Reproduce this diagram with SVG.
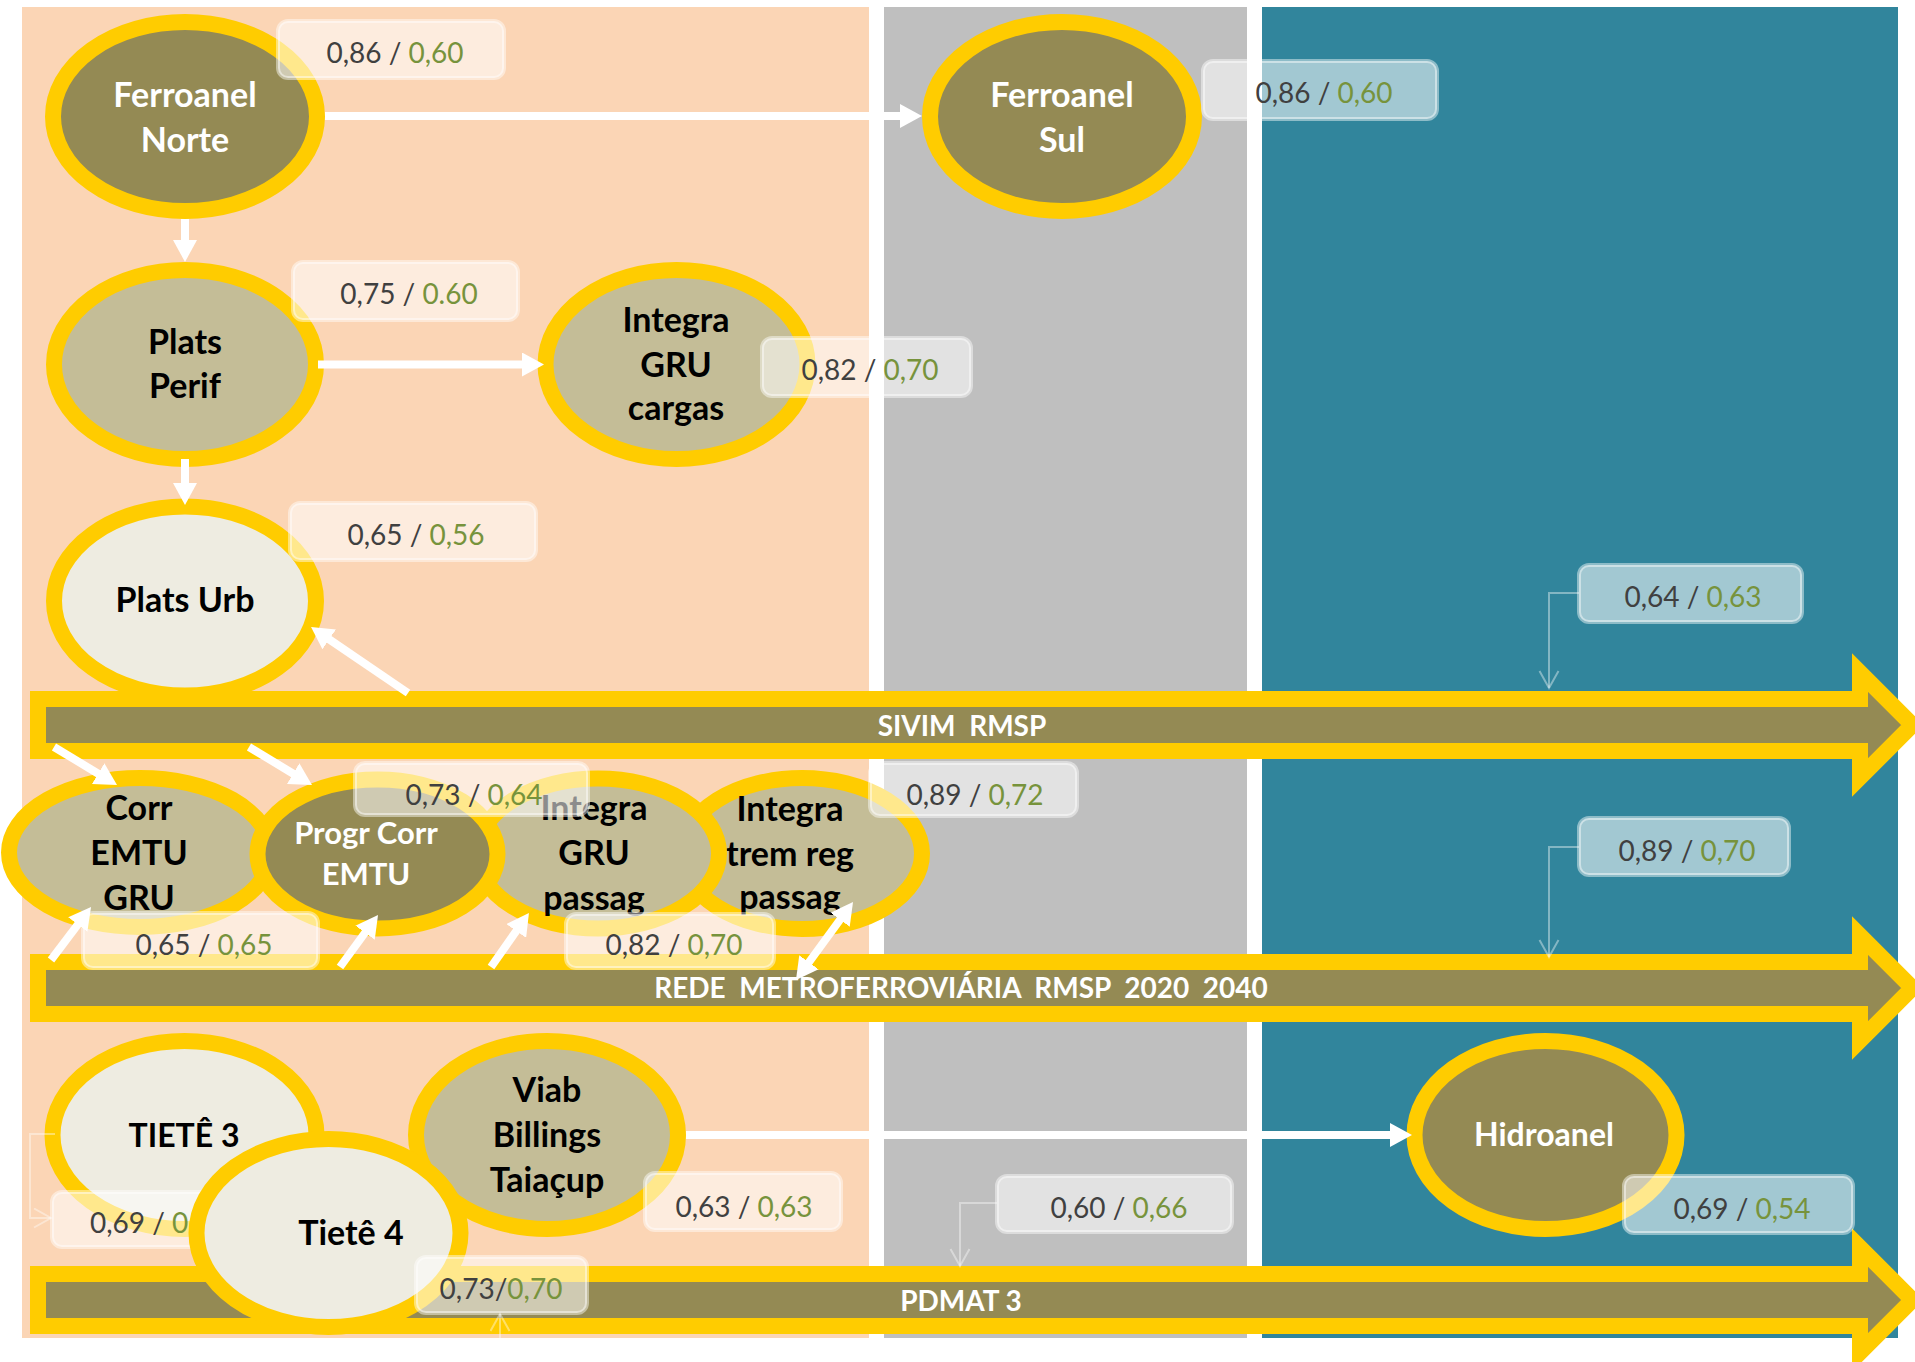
<svg xmlns="http://www.w3.org/2000/svg" width="1915" height="1362" viewBox="0 0 1915 1362">
<style>
.ring{stroke:#FFCC00;stroke-width:16}
.dark{fill:#948A54}.mid{fill:#C4BD97}.light{fill:#EEECE1}
.nt{font-family:Lato,'Liberation Sans',sans-serif;font-weight:700;font-size:34px;text-anchor:middle}
.s32{font-size:32px}.s31{font-size:31px}
.w{fill:#FFFFFF}.b{fill:#000000}
.lb{fill:#FFFFFF;fill-opacity:.55;stroke:#FFFFFF;stroke-opacity:.45;stroke-width:4}
.lt{font-family:Lato,'Liberation Sans',sans-serif;font-size:28px;fill:#404040;text-anchor:middle}
.g{fill:#77933C}
.big{stroke:#FFCC00;stroke-width:16;fill:#948A54;stroke-linejoin:miter;stroke-miterlimit:10}
.at{font-family:Lato,'Liberation Sans',sans-serif;font-weight:700;font-size:28px;fill:#FFFFFF;text-anchor:middle}
.wa{stroke:#FFFFFF;stroke-width:8;fill:none}
.cl{stroke:#FFFFFF;stroke-opacity:.4;stroke-width:2;fill:none}
</style>
<defs>
<marker id="ah" markerUnits="userSpaceOnUse" markerWidth="22" markerHeight="24" refX="4" refY="12" orient="auto-start-reverse">
<path d="M0,0 L22,12 L0,24 Z" fill="#FFFFFF"/>
</marker>
<marker id="oh" markerUnits="userSpaceOnUse" markerWidth="20" markerHeight="22" refX="18" refY="10.5" orient="auto">
<path d="M1,1 L18,10.5 L1,20" fill="none" stroke="#FFFFFF" stroke-opacity=".4" stroke-width="2"/>
</marker>
</defs>
<rect width="1915" height="1362" fill="#FFFFFF"/>
<g id="panels">
<rect x="22" y="7" width="847" height="1331" fill="#FBD5B5"/>
<rect x="884" y="7" width="363" height="1331" fill="#BFBFBF"/>
<rect x="1262" y="7" width="636" height="1331" fill="#31859C"/>
</g>
<g id="ferroanel-norte"><ellipse class="ring dark" cx="185" cy="116.5" rx="132" ry="94.5"/><text class="nt w" x="185" y="107">Ferroanel</text><text class="nt w" x="185" y="152">Norte</text></g>
<g id="ferroanel-sul"><ellipse class="ring dark" cx="1062" cy="116.5" rx="132" ry="94.5"/><text class="nt w" x="1062" y="107">Ferroanel</text><text class="nt w" x="1062" y="152">Sul</text></g>
<g id="plats-perif"><ellipse class="ring mid" cx="185" cy="364.5" rx="131" ry="94.5"/><text class="nt b" x="185" y="354">Plats</text><text class="nt b" x="185" y="398">Perif</text></g>
<g id="integra-gru-cargas"><ellipse class="ring mid" cx="676.5" cy="364.5" rx="131" ry="94.5"/><text class="nt b" x="676" y="332">Integra</text><text class="nt b" x="676" y="377">GRU</text><text class="nt b" x="676" y="420">cargas</text></g>
<g id="plats-urb"><ellipse class="ring light" cx="185" cy="601" rx="131" ry="94.5"/><text class="nt b" x="185" y="612">Plats Urb</text></g>
<g id="sivim-rmsp"><path class="big" d="M38,699 H1860 V672.5 L1912.5,725 L1860,777.5 V751 H38 Z"/><text class="at" x="962" y="736" xml:space="preserve">SIVIM  RMSP</text></g>
<g id="rede-metroferroviaria"><path class="big" d="M38,962 H1860 V935.5 L1912.5,988 L1860,1040.5 V1014 H38 Z"/><text class="at" x="961" y="998" xml:space="preserve">REDE  METROFERROVIÁRIA  RMSP  2020  2040</text></g>
<g id="pdmat-3"><path class="big" d="M38,1274 H1860 V1247.5 L1912.5,1300 L1860,1352.5 V1326 H38 Z"/><text class="at" x="961" y="1311">PDMAT 3</text></g>
<g id="integra-trem-reg-passag"><ellipse class="ring mid" cx="802" cy="853.5" rx="120" ry="75.5"/><text class="nt b" x="790" y="821">Integra</text><text class="nt b" x="790" y="866">trem reg</text><text class="nt b" x="790" y="909">passag</text></g>
<g id="integra-gru-passag"><ellipse class="ring mid" cx="598" cy="853.5" rx="121" ry="75"/><text class="nt b" x="594" y="820">Integra</text><text class="nt b" x="594" y="865">GRU</text><text class="nt b" x="594" y="910">passag</text></g>
<g id="corr-emtu-gru"><ellipse class="ring mid" cx="140" cy="852.5" rx="131" ry="74.5"/><text class="nt b" x="139" y="820">Corr</text><text class="nt b" x="139" y="865">EMTU</text><text class="nt b" x="139" y="910">GRU</text></g>
<g id="progr-corr-emtu"><ellipse class="ring dark" cx="377.5" cy="854" rx="120" ry="74.5"/><text class="nt w s31" x="366" y="844">Progr Corr</text><text class="nt w s31" x="366" y="885">EMTU</text></g>
<g id="tiete-3"><ellipse class="ring light" cx="184.5" cy="1135" rx="132" ry="94"/><text class="nt b s32" x="184" y="1147">TIETÊ 3</text></g>
<g id="label-tiete-3"><rect class="lb" x="52" y="1192" width="233" height="55" rx="10"/><text class="lt" x="90" y="1233" style="text-anchor:start">0,69 / <tspan class="g">0</tspan></text></g>
<g id="viab-billings-taiacup"><ellipse class="ring mid" cx="547" cy="1135" rx="131" ry="94"/><text class="nt b" x="547" y="1102">Viab</text><text class="nt b" x="547" y="1147">Billings</text><text class="nt b" x="547" y="1192">Taiaçup</text></g>
<g id="tiete-4"><ellipse class="ring light" cx="328.5" cy="1233" rx="132" ry="94"/><text class="nt b" x="351" y="1245">Tietê 4</text></g>
<g id="hidroanel"><ellipse class="ring dark" cx="1545.5" cy="1135" rx="131" ry="94"/><text class="nt w s32" x="1544" y="1146">Hidroanel</text></g>
<g id="connectors">
<line class="wa" x1="325" y1="116" x2="904" y2="116" marker-end="url(#ah)"/>
<line class="wa" x1="185" y1="219" x2="185" y2="244" marker-end="url(#ah)"/>
<line class="wa" x1="318" y1="364.5" x2="526" y2="364.5" marker-end="url(#ah)"/>
<line class="wa" x1="185" y1="459" x2="185" y2="487" marker-end="url(#ah)"/>
<line class="wa" x1="408" y1="693" x2="325.9" y2="637.1" marker-end="url(#ah)"/>
<line class="wa" x1="54" y1="747" x2="101.6" y2="775.7" marker-end="url(#ah)"/>
<line class="wa" x1="249" y1="747" x2="296.6" y2="775.7" marker-end="url(#ah)"/>
<line class="wa" x1="51" y1="960" x2="80.2" y2="921.4" marker-end="url(#ah)"/>
<line class="wa" x1="340" y1="967" x2="367.4" y2="929.5" marker-end="url(#ah)"/>
<line class="wa" x1="491" y1="967" x2="518.6" y2="927.7" marker-end="url(#ah)"/>
<line class="wa" x1="806.6" y1="965.5" x2="842.4" y2="916.5" marker-start="url(#ah)" marker-end="url(#ah)"/>
<line class="wa" x1="686" y1="1135" x2="1394" y2="1135" marker-end="url(#ah)"/>
<path class="cl" d="M1579,593 H1549 V688" marker-end="url(#oh)"/>
<path class="cl" d="M1579,847 H1549 V957" marker-end="url(#oh)"/>
<path class="cl" d="M997,1203 H960 V1266" marker-end="url(#oh)"/>
<path class="cl" d="M55,1134 H30 V1218 H51" marker-end="url(#oh)"/>
<path class="cl" d="M500,1338 V1314" marker-end="url(#oh)"/>
</g>
<g id="labels">
<g id="label-ferroanel-norte"><rect class="lb" x="278" y="21" width="226" height="57" rx="10"/><text class="lt" x="395" y="63">0,86 / <tspan class="g">0,60</tspan></text></g>
<g id="label-ferroanel-sul"><rect class="lb" x="1203" y="61" width="234" height="58" rx="10"/><text class="lt" x="1324" y="103">0,86 / <tspan class="g">0,60</tspan></text></g>
<g id="label-plats-perif"><rect class="lb" x="293" y="262" width="225" height="58" rx="10"/><text class="lt" x="409" y="304">0,75 / <tspan class="g">0.60</tspan></text></g>
<g id="label-integra-cargas"><rect class="lb" x="762" y="338" width="209" height="58" rx="10"/><text class="lt" x="870" y="380">0,82 / <tspan class="g">0,70</tspan></text></g>
<g id="label-plats-urb"><rect class="lb" x="290" y="503" width="246" height="57" rx="10"/><text class="lt" x="416" y="545">0,65 / <tspan class="g">0,56</tspan></text></g>
<g id="label-sivim"><rect class="lb" x="1579" y="565" width="223" height="57" rx="10"/><text class="lt" x="1693" y="607">0,64 / <tspan class="g">0,63</tspan></text></g>
<g id="label-progr-corr"><rect class="lb" x="355" y="763" width="233" height="52" rx="10"/><text class="lt" x="474" y="805">0,73 / <tspan class="g">0,64</tspan></text></g>
<g id="label-integra-trem"><rect class="lb" x="870" y="763" width="207" height="53" rx="10"/><text class="lt" x="975" y="805">0,89 / <tspan class="g">0,72</tspan></text></g>
<g id="label-rede"><rect class="lb" x="1579" y="818" width="210" height="57" rx="10"/><text class="lt" x="1687" y="861">0,89 / <tspan class="g">0,70</tspan></text></g>
<g id="label-corr-emtu"><rect class="lb" x="83" y="913" width="235" height="55" rx="10"/><text class="lt" x="204" y="955">0,65 / <tspan class="g">0,65</tspan></text></g>
<g id="label-integra-gru-passag"><rect class="lb" x="566" y="914" width="208" height="54" rx="10"/><text class="lt" x="674" y="955">0,82 / <tspan class="g">0,70</tspan></text></g>
<g id="label-viab"><rect class="lb" x="645" y="1173" width="196" height="57" rx="10"/><text class="lt" x="744" y="1217">0,63 / <tspan class="g">0,63</tspan></text></g>
<g id="label-pdmat"><rect class="lb" x="997" y="1176" width="235" height="56" rx="10"/><text class="lt" x="1119" y="1218">0,60 / <tspan class="g">0,66</tspan></text></g>
<g id="label-hidroanel"><rect class="lb" x="1624" y="1176" width="229" height="57" rx="10"/><text class="lt" x="1742" y="1219">0,69 / <tspan class="g">0,54</tspan></text></g>
<g id="label-tiete-4"><rect class="lb" x="416" y="1257" width="171" height="56" rx="10"/><text class="lt" x="501" y="1299">0,73/<tspan class="g">0,70</tspan></text></g>
</g>
</svg>
